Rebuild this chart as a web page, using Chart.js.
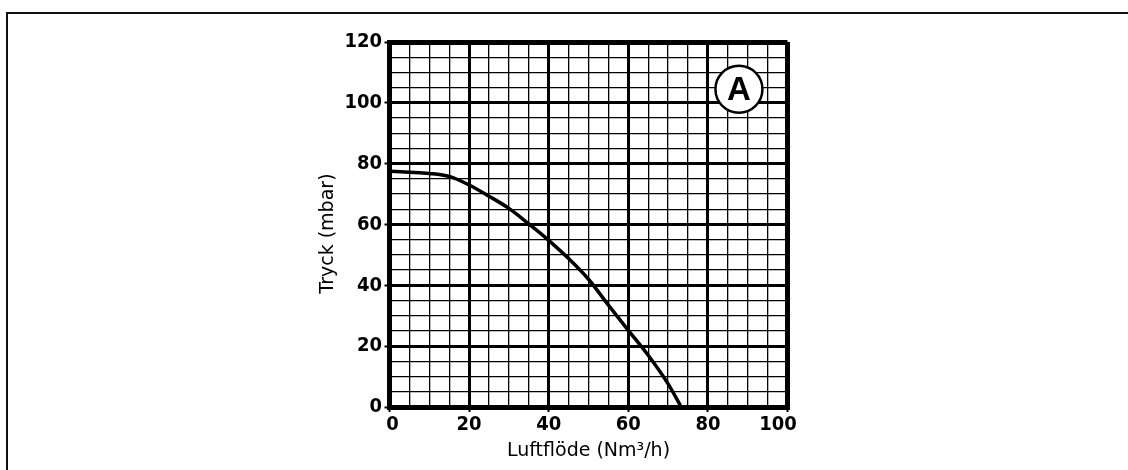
<!DOCTYPE html>
<html>
<head>
<meta charset="utf-8">
<script src="https://cdn.jsdelivr.net/npm/chart.js@4/dist/chart.umd.min.js"></script>
<style>
    html, body { margin: 0; padding: 0; background: #fff; }
    #wrap { position: relative; width: 1128px; height: 470px; overflow: hidden; }
    #frame { position: absolute; left: 6px; top: 12px; width: 1130px; height: 470px;
             border-top: 2px solid #111; border-left: 2px solid #111; }
    #chart { position: absolute; left: 0; top: 0; }
</style>
</head>
<body>
<div id="wrap">
    <div id="frame"></div>
    <canvas id="chart" width="1128" height="470"></canvas>
</div>
<script>
// Kurvdata
const flowValues = [0, 5, 10, 15, 20, 25, 30, 35, 40, 45, 50, 55, 60, 65, 70, 73.3];
const pressureValues = [77.5, 77.2, 76.8, 75.8, 73, 69.3, 65.3, 60.2, 54.8, 48.8, 42, 33.5, 25.2, 17, 7.6, 0];

// Axlar
const xTicks = [0, 20, 40, 60, 80, 100];
const yTicks = [0, 20, 40, 60, 80, 100, 120];
const xTitle = 'Luftflöde (Nm³/h)';
const yTitle = 'Tryck (mbar)';
const badgeLabel = 'A';
const badgePos = [87.8, 104.5]; // i dataenheter

const isMajor = v => v % 20 === 0;

// Ritar cirkeln med "A"
const badgePlugin = {
    id: 'badge',
    afterDatasetsDraw(chart) {
        const { ctx, scales } = chart;
        const cx = scales.x.getPixelForValue(badgePos[0]);
        const cy = scales.y.getPixelForValue(badgePos[1]);
        ctx.save();
        ctx.beginPath();
        ctx.arc(cx, cy, 23.5, 0, Math.PI * 2);
        ctx.fillStyle = '#fff';
        ctx.fill();
        ctx.lineWidth = 2.5;
        ctx.strokeStyle = '#000';
        ctx.stroke();
        ctx.fillStyle = '#000';
        ctx.font = 'bold 33px "Liberation Sans", Arial, sans-serif';
        ctx.textAlign = 'center';
        ctx.textBaseline = 'middle';
        ctx.fillText(badgeLabel, cx, cy + 2);
        ctx.restore();
    }
};

const tickFont = { family: '"DejaVu Sans Condensed", "Liberation Sans Narrow", sans-serif', size: 20, weight: 'bold' };
const titleFont = { family: '"DejaVu Sans", sans-serif', size: 19 };

function gridWidth(ctx, edge) {
    const v = ctx.tick.value;
    if (v === 0 || v === edge) return 5;
    return isMajor(v) ? 3 : 1.3;
}

new Chart(document.getElementById('chart'), {
    type: 'line',
    data: {
        datasets: [{
            data: flowValues.map((x, i) => ({ x: x, y: pressureValues[i] })),
            borderColor: '#000',
            borderWidth: 3.5,
            pointRadius: 0,
            cubicInterpolationMode: 'monotone',
            fill: false
        }]
    },
    options: {
        responsive: false,
        animation: false,
        devicePixelRatio: 1,
        layout: { padding: { left: 312, right: 340.5, top: 42, bottom: 0 } },
        plugins: { legend: { display: false }, tooltip: { enabled: false } },
        scales: {
            x: {
                type: 'linear',
                min: 0,
                max: 100,
                afterFit: axis => { axis.height = 63; },
                border: { display: true, width: 5, color: '#000' },
                grid: {
                    color: '#000',
                    lineWidth: ctx => gridWidth(ctx, 100),
                    tickLength: 5,
                    tickWidth: 2,
                    tickColor: ctx => isMajor(ctx.tick.value) ? '#000' : 'rgba(0,0,0,0)'
                },
                ticks: {
                    stepSize: 5,
                    autoSkip: false,
                    maxRotation: 0,
                    minRotation: 0,
                    padding: 1,
                    color: '#000',
                    font: tickFont,
                    callback: v => {
                        if (!xTicks.includes(v)) return '';
                        if (v === 0) return '\u00a0' + v;
                        if (v === 100) return v + '\u00a0\u00a0\u00a0';
                        return String(v);
                    }
                },
                title: {
                    display: true,
                    text: xTitle,
                    color: '#000',
                    font: titleFont,
                    padding: { top: 0, bottom: 8 }
                }
            },
            y: {
                min: 0,
                max: 120,
                afterFit: axis => { axis.width = 77.5; },
                border: { display: true, width: 5, color: '#000' },
                grid: {
                    color: '#000',
                    lineWidth: ctx => gridWidth(ctx, 120),
                    tickLength: 5,
                    tickWidth: 2,
                    tickColor: ctx => isMajor(ctx.tick.value) ? '#000' : 'rgba(0,0,0,0)'
                },
                ticks: {
                    stepSize: 5,
                    autoSkip: false,
                    padding: 2.5,
                    color: '#000',
                    font: tickFont,
                    callback: v => yTicks.includes(v) ? String(v) : ''
                },
                title: {
                    display: true,
                    text: yTitle + '\u00a0\u00a0\u00a0',
                    color: '#000',
                    font: titleFont,
                    padding: { top: 5, bottom: 0 }
                }
            }
        }
    },
    plugins: [badgePlugin]
});
</script>
</body>
</html>
